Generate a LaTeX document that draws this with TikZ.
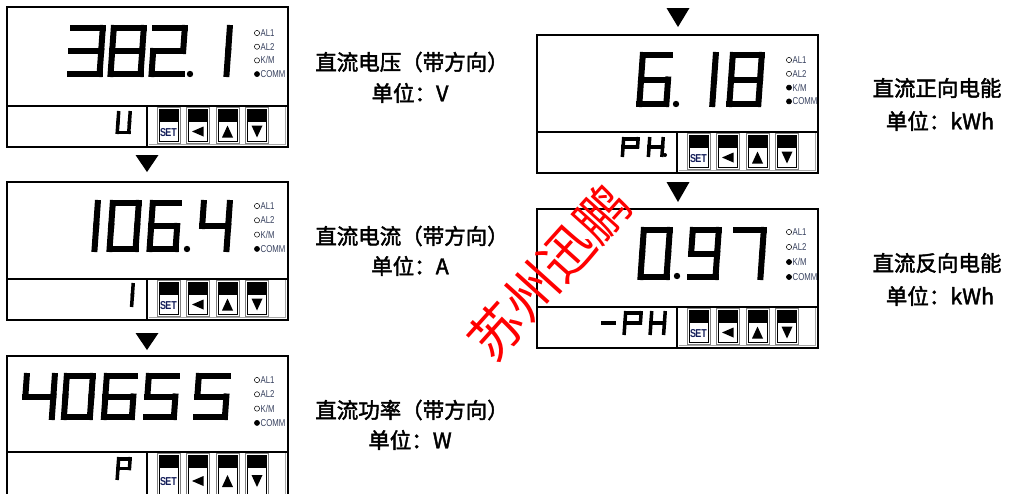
\documentclass[tikz,border=0pt]{standalone}
\usepackage{fontspec}
\setmainfont{Liberation Sans}
\newfontfamily\narrowf{Liberation Sans}[FakeStretch=0.78]
\newfontfamily\cjkr{Noto Sans CJK SC}
\newfontfamily\cjkb{Noto Sans CJK SC}[FakeBold=2]
\definecolor{ledtext}{RGB}{55,65,95}
\definecolor{setblue}{RGB}{20,30,90}
\tikzset{
  frame/.style={draw=black, line width=1.3pt},
  ledopen/.style={draw=black, line width=0.5pt},
  ledfull/.style={draw=black, fill=black, line width=0.5pt},
  led/.style={anchor=west, inner sep=0pt, text=ledtext, font=\narrowf\fontsize{10}{10}\selectfont},
  caption/.style={inner sep=0pt, font=\cjkb\fontsize{21.5}{21.5}\selectfont},
  wmark/.style={inner sep=0pt, text=red, font=\cjkr\fontsize{53}{53}\selectfont},
}
% seven-segment digit: x, y (top-left), width, height, stroke, segments
\newcommand\sdig[6]{%
  \begin{scope}[shift={(#1,#2)}, xslant=0.07]
    \pgfmathsetmacro\dL{#5/2}\pgfmathsetmacro\dR{#3-#5/2}%
    \pgfmathsetmacro\dT{#5/2}\pgfmathsetmacro\dB{#4-#5/2}\pgfmathsetmacro\dM{#4/2}%
    \coordinate (a1) at (\dL,\dT); \coordinate (a2) at (\dR,\dT);
    \coordinate (b1) at (\dR,\dT); \coordinate (b2) at (\dR,\dM);
    \coordinate (c1) at (\dR,\dM); \coordinate (c2) at (\dR,\dB);
    \coordinate (d1) at (\dL,\dB); \coordinate (d2) at (\dR,\dB);
    \coordinate (e1) at (\dL,\dM); \coordinate (e2) at (\dL,\dB);
    \coordinate (f1) at (\dL,\dT); \coordinate (f2) at (\dL,\dM);
    \coordinate (g1) at (\dL,\dM); \coordinate (g2) at (\dR,\dM);
    \foreach \s in {#6}{\draw[line cap=rect, line width=#5pt] (\s1) -- (\s2);}
  \end{scope}}
% meter frame: x0, y0, ydiv, y1
\newcommand\meter[4]{%
  \pgfmathsetmacro\xr{#1+281}\pgfmathsetmacro\xd{#1+140}%
  \draw[frame] (#1,#2) rectangle (\xr,#4);
  \draw[frame] (#1,#3) -- (\xr,#3);
  \draw[frame] (\xd,#3) -- (\xd,#4);
  \draw[gray!70, line width=0.8pt] (\xd+1.5,#4-2.5) -- (\xr-2.5,#4-2.5) -- (\xr-2.5,#3+1);
  \foreach \i in {0,1,2,3}{%
    \pgfmathsetmacro\bx{\xd+10+\i*29.5}%
    \draw[gray, line width=0.8pt] (\bx,#3+1.5) rectangle (\bx+23,#4-4);
    \draw[black, line width=0.7pt] (\bx+2,#3+3.5) rectangle (\bx+21,#4-6);
    \fill (\bx+2,#3+3.5) rectangle (\bx+21,#3+16);
  }
  \pgfmathsetmacro\cy{(#3+16+#4-6)/2}%
  \node[inner sep=0pt, text=setblue, font=\narrowf\bfseries\fontsize{11.5}{11.5}\selectfont] at (\xd+21.5,\cy+1) {S\kern-0.8pt ET};
  \fill (\xd+10+29.5+5.5,\cy) -- (\xd+10+29.5+17,\cy-5) -- (\xd+10+29.5+17,\cy+5) -- cycle;
  \fill (\xd+10+59+11.5,\cy-6) -- (\xd+10+59+17,\cy+6) -- (\xd+10+59+6,\cy+6) -- cycle;
  \fill (\xd+10+88.5+11.5,\cy+6) -- (\xd+10+88.5+17,\cy-6) -- (\xd+10+88.5+6,\cy-6) -- cycle;
}
% indicator lamps: x, y, dy, K/M style
\newcommand\leds[4]{%
  \foreach \k/\t/\st in {0/AL1/ledopen,1/AL2/ledopen,2/{K/M}/#4,3/COMM/ledfull}{%
    \draw[\st] (#1,#2+\k*#3) circle (2.6pt);
    \node[led] at (#1+3.5,#2+\k*#3) {\t};
  }}
% down triangle: cx, ytop, ybot
\newcommand\tri[3]{\fill (#1-11.5,#2) -- (#1+11.5,#2) -- (#1,#3) -- cycle;}
\begin{document}
\begin{tikzpicture}[x=1pt,y=-1pt]
\fill[white] (0,0) rectangle (1020,493);
\useasboundingbox (0,0) rectangle (1020,493);
\clip (0,0) rectangle (1020,493);

% ---------- panel 1 ----------
\meter{7}{7}{106}{147}
\leds{257}{33}{13.7}{ledopen}
\sdig{70}{25}{36}{52}{6}{a,b,g,c,d}
\sdig{111}{25}{36}{52}{6}{a,b,c,d,e,f,g}
\sdig{152}{25}{36}{52}{6}{a,b,g,e,d}
\fill (190,74) circle (3.2pt);
\sdig{197}{25}{36}{52}{6}{b,c}
\sdig{117}{111}{15}{23}{3.5}{b,c,d,e,f}

\tri{147}{155}{172}

% ---------- panel 2 ----------
\meter{7}{182}{279}{320}
\leds{257}{206}{14.3}{ledopen}
\sdig{69}{200}{32}{52}{6}{b,c}
\sdig{110}{200}{32}{52}{6}{a,b,c,d,e,f}
\sdig{150}{200}{32}{52}{6}{a,f,g,e,d,c}
\fill (187,249) circle (3.2pt);
\sdig{201}{200}{32}{52}{6}{f,g,b,c}
\sdig{121}{283}{14}{24}{3.5}{b,c}

\tri{147}{333}{350}

% ---------- panel 3 ----------
\meter{7}{356}{452}{500}
\leds{257}{380}{14.3}{ledopen}
\sdig{24}{373}{34}{47}{6}{f,g,b,c}
\sdig{64}{373}{32}{47}{6}{a,b,c,d,e,f}
\sdig{104}{373}{34}{47}{6}{a,f,g,e,d,c}
\sdig{146}{373}{34}{47}{6}{a,f,g,c,d}
\sdig{196}{373}{35}{47}{6}{a,f,g,c,d}
\sdig{117}{457}{15}{23}{3.5}{a,b,e,f,g}

% ---------- panel 4 ----------
\tri{678}{8}{27}
\meter{537}{35}{132}{173}
\leds{789}{60}{13.8}{ledfull}
\sdig{640}{52}{33}{55}{6}{a,f,g,e,d,c}
\fill (676,104) circle (3.2pt);
\sdig{686}{52}{33}{55}{6}{b,c}
\sdig{730}{52}{35}{55}{6}{a,b,c,d,e,f,g}
\sdig{622}{137}{18}{20}{3.5}{a,b,e,f,g}
\sdig{648}{137}{17}{20}{3.5}{b,c,e,f,g}
\fill (665,155) circle (2pt);

\tri{678}{182}{202}

% ---------- panel 5 ----------
\meter{537}{209}{307}{348}
\leds{789}{232}{15}{ledfull}
\sdig{641}{227}{32}{53}{6}{a,b,c,d,e,f}
\fill (677,276) circle (3.2pt);
\sdig{690}{227}{32}{53}{6}{a,b,c,d,f,g}
\sdig{733}{227}{34}{53}{6}{a,b,c}
\sdig{602}{311}{15}{24}{3.5}{g}
\sdig{624}{311}{19}{24}{3.5}{a,b,e,f,g}
\sdig{650}{311}{17}{24}{3.5}{b,c,e,f,g}

% ---------- captions ----------
\node[caption] (t1a) at (412,62) {直流电压（带方向）};
\node[caption] (t1b) at (410,93) {单位：V};
\node[caption] (t2a) at (412,236) {直流电流（带方向）};
\node[caption] (t2b) at (410,266) {单位：A};
\node[caption] (t3a) at (412,410) {直流功率（带方向）};
\node[caption] (t3b) at (410,440) {单位：W};
\node[caption] (t4a) at (937,88) {直流正向电能};
\node[caption] (t4b) at (940,121) {单位：kWh};
\node[caption] (t5a) at (937,263) {直流反向电能};
\node[caption] (t5b) at (940,296) {单位：kWh};

% ---------- watermark ----------
\node[wmark, rotate=48] (wm) at (549,272) {苏州迅鹏};
\end{tikzpicture}
\end{document}
